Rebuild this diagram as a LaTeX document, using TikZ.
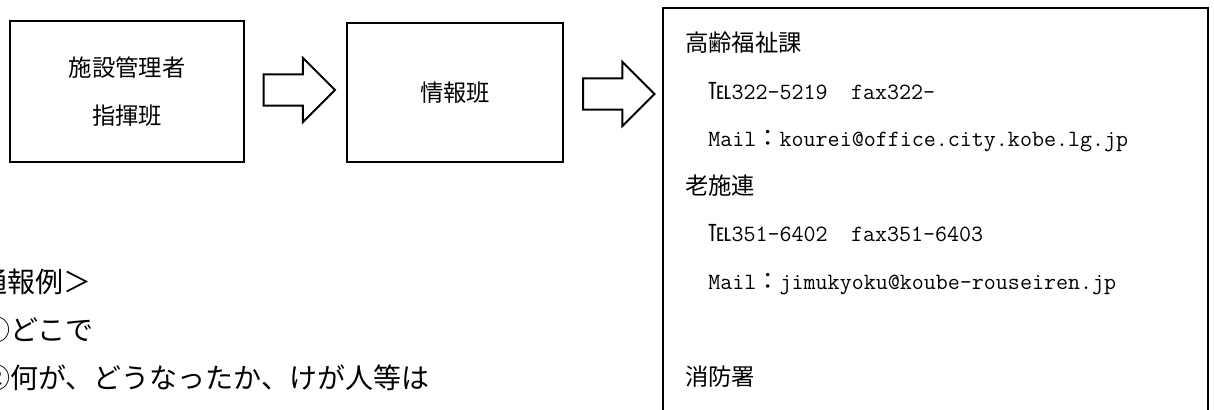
\documentclass[tikz,border=0pt]{standalone}
\usepackage{fontspec}
\setmainfont{Noto Sans CJK JP}
\usetikzlibrary{shapes.arrows,calc}

\tikzset{
	box/.style={draw, line width=1.5pt, inner sep=0pt, align=center, font=\fontsize{17.5}{35.5}\selectfont},
	bigarrow/.style={draw, line width=1.5pt, single arrow, single arrow head extend=12.4pt, minimum height=53.5pt, inner xsep=0pt, inner ysep=10.9pt},
	contact/.style={anchor=west, inner sep=0pt, font=\fontsize{17.5}{21}\selectfont, text height=15.4pt, text depth=2.1pt},
	note/.style={anchor=west, inner sep=0pt, font=\fontsize{21}{25}\selectfont, text height=18.5pt, text depth=2.5pt},
}

\begin{document}
\begin{tikzpicture}[x=0.75pt, y=-0.75pt]
		\clip (0,0) rectangle (1214,410);
		\begin{scope}
			\node[box, anchor=north west, minimum width=175.5pt, minimum height=105.75pt] (pm) at (9,20) {施設管理者\\指揮班};
			\node[box, anchor=north west, minimum width=162pt, minimum height=104.25pt] (info) at (346,22) {情報班};
			\node[box, anchor=north west, minimum width=408.75pt, minimum height=324.75pt] (ward) at (662,7) {};

			\node[bigarrow] (a1) at ($(pm.east)!0.5!(info.west)+(-4,-2)$) {}; % pm -> info
			\node[bigarrow] (a2) at ($(info.east)!0.5!(info.east -| ward.west)+(-2,1.5)$) {}; % info -> ward

			\node[contact] (c1) at (685,43) {高齢福祉課};
			\node[contact] (c2) at (708,90.5) {℡\texttt{322-5219}　\texttt{fax322-}};
			\node[contact] (c3) at (708,138) {\texttt{Mail}：\texttt{kourei@office.city.kobe.lg.jp}};
			\node[contact] (c4) at (685,186) {老施連};
			\node[contact] (c5) at (708,233) {℡\texttt{351-6402}　\texttt{fax351-6403}};
			\node[contact] (c6) at (708,281) {\texttt{Mail}：\texttt{jimukyoku@koube-rouseiren.jp}};
			\node[contact] (c7) at (685,377) {消防署};

			\node[note] (n1) at (-49,282) {＜通報例＞};
			\node[note] (n2) at (-18,330) {①どこで};
			\node[note] (n3) at (-18,378) {②何が、どうなったか、けが人等は};
		\end{scope}
	\end{tikzpicture}
\end{document}
